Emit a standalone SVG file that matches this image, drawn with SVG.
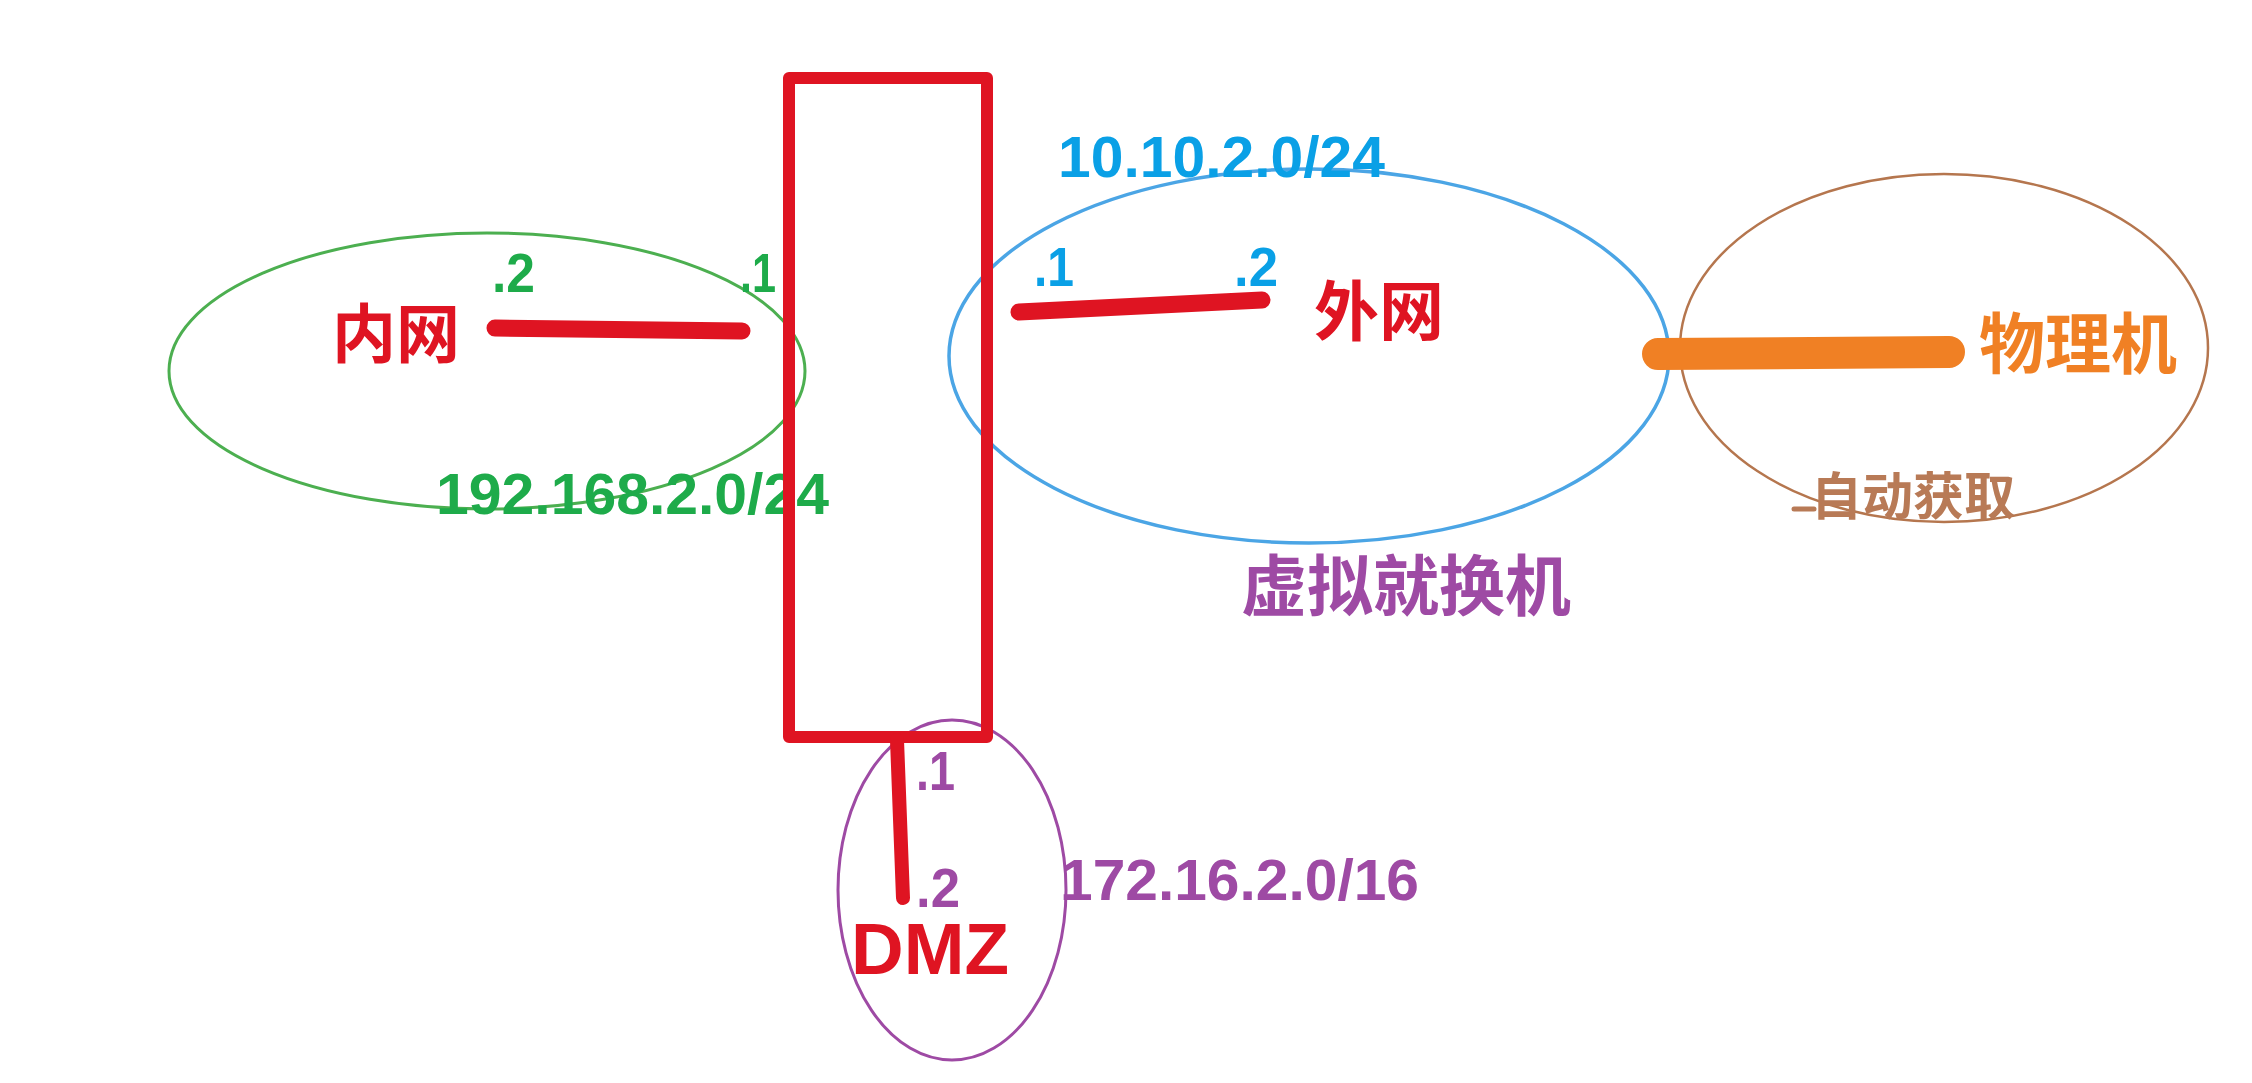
<svg xmlns="http://www.w3.org/2000/svg" width="2252" height="1083" viewBox="0 0 2252 1083">
<style>
.num{font-family:"Liberation Sans","Noto Sans CJK SC",sans-serif;font-weight:bold;}
.cjk{font-family:"Noto Sans CJK SC","Liberation Sans",sans-serif;font-weight:bold;}
.red{fill:#DF1422;}
.green{fill:#1EAB4A;}
.blue{fill:#0AA0E6;}
.purple{fill:#9E4AA4;}
.orange{fill:#F08024;}
.brown{fill:#B87A56;}
.ring{fill:none;}
.wire{stroke-linecap:round;fill:none;}
</style>
<rect width="2252" height="1083" fill="#ffffff"/>
<g id="lan">
<ellipse class="ring" cx="487" cy="371" rx="318" ry="138" stroke="#4CAF50" stroke-width="3"/>
<text class="cjk red" x="332" y="357" font-size="64">内网</text>
<text class="num green" x="492" y="292" font-size="55" textLength="43" lengthAdjust="spacingAndGlyphs">.2</text>
<text class="num green" x="740" y="292" font-size="55" textLength="36" lengthAdjust="spacingAndGlyphs">.1</text>
<text class="num green" x="436" y="514" font-size="58" textLength="393" lengthAdjust="spacingAndGlyphs">192.168.2.0/24</text>
</g>
<g id="wan">
<ellipse class="ring" cx="1309" cy="356" rx="360" ry="187" stroke="#4BA5E5" stroke-width="3.5"/>
<text class="cjk red" x="1314" y="335" font-size="65">外网</text>
<text class="num blue" x="1058" y="177" font-size="57" textLength="327" lengthAdjust="spacingAndGlyphs">10.10.2.0/24</text>
<text class="num blue" x="1034" y="286" font-size="55" textLength="40" lengthAdjust="spacingAndGlyphs">.1</text>
<text class="num blue" x="1234" y="286" font-size="55" textLength="44" lengthAdjust="spacingAndGlyphs">.2</text>
<text class="cjk purple" x="1241" y="610" font-size="66">虚拟就换机</text>
</g>
<g id="host">
<ellipse class="ring" cx="1944" cy="348" rx="264" ry="174" stroke="#B5764E" stroke-width="2.5"/>
<text class="cjk orange" x="1979" y="368" font-size="66">物理机</text>
<text class="cjk brown" x="1811" y="515" font-size="51">自动获取</text>
<path d="M1794 509 L1814 509" stroke="#B87A56" stroke-width="5" stroke-linecap="round"/>
</g>
<g id="dmz">
<ellipse class="ring" cx="952" cy="890" rx="114" ry="170" stroke="#9E4AA4" stroke-width="3"/>
<text class="num purple" x="916" y="790" font-size="55" textLength="39" lengthAdjust="spacingAndGlyphs">.1</text>
<text class="num purple" x="916" y="907" font-size="55" textLength="44" lengthAdjust="spacingAndGlyphs">.2</text>
<text class="num purple" x="1060" y="900" font-size="58" textLength="359" lengthAdjust="spacingAndGlyphs">172.16.2.0/16</text>
<text class="num red" x="851" y="974" font-size="72" textLength="158" lengthAdjust="spacingAndGlyphs">DMZ</text>
</g>
<g id="firewall">
<rect x="789" y="78" width="198" height="659" fill="none" stroke="#DF1422" stroke-width="12" stroke-linejoin="round"/>
</g>
<g id="connectors">
<path class="wire" d="M495 328 L742 331" stroke="#DF1422" stroke-width="17"/>
<path class="wire" d="M1019 312 L1262 300" stroke="#DF1422" stroke-width="17"/>
<path class="wire" d="M897 740 L903 898" stroke="#DF1422" stroke-width="14"/>
<path class="wire" d="M1658 354 L1949 352" stroke="#F08024" stroke-width="32"/>
</g>
</svg>
